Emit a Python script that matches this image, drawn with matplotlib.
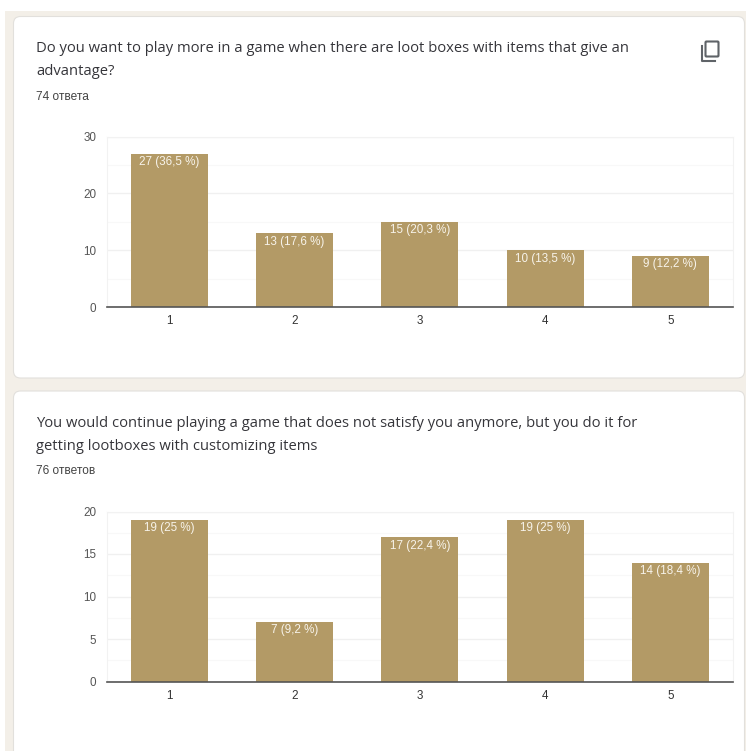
import matplotlib
matplotlib.use("Agg")
import matplotlib.pyplot as plt
from matplotlib.patches import FancyBboxPatch, Rectangle
from matplotlib.lines import Line2D

categories = [1, 2, 3, 4, 5]
values_a = [27, 13, 15, 10, 9]
labels_a = ["27 (36,5 %)", "13 (17,6 %)", "15 (20,3 %)", "10 (13,5 %)", "9 (12,2 %)"]
values_b = [19, 7, 17, 19, 14]
labels_b = ["19 (25 %)", "7 (9,2 %)", "17 (22,4 %)", "19 (25 %)", "14 (18,4 %)"]
title_a = ["Do you want to play more in a game when there are loot boxes with items that give an", "advantage?"]
title_b = ["You would continue playing a game that does not satisfy you anymore, but you do it for", "getting lootboxes with customizing items"]
count_a = "74 ответа"
count_b = "76 ответов"
ticks_a = [0, 10, 20, 30]
minor_a = [5, 15, 25]
ticks_b = [0, 5, 10, 15, 20]
minor_b = [2.5, 7.5, 12.5, 17.5]

W, H = 746, 751
BAR = "#b39a66"
fig = plt.figure(figsize=(W / 100, H / 100), dpi=100, facecolor="white")
bg = fig.add_axes([0, 0, 1, 1])
bg.set_xlim(0, W)
bg.set_ylim(H, 0)
bg.axis("off")
bg.add_patch(Rectangle((5, 11), W - 5, H - 11, fc="#f3efe8", ec="none"))
for y0, y1 in [(16.5, 378), (391, 790)]:
    bg.add_patch(FancyBboxPatch((13.5 + 6, y0 + 6), 731 - 12, y1 - y0 - 12,
                                boxstyle="round,pad=6,rounding_size=7",
                                fc="white", ec="#e2e0dc", lw=0.8))

TITLE_FONT = "Open Sans"
for (lines, count, ys, yc) in [(title_a, count_a, (48.5, 71.5), 96.5), (title_b, count_b, (423.5, 446.5), 470.5)]:
    for line, y in zip(lines, ys):
        bg.text(36, y, line, family=TITLE_FONT, fontsize=10.6, color="#35353a", va="center", ha="left")
    bg.text(36, yc, count, family="Liberation Sans", fontsize=8.6, color="#444444", va="center", ha="left")

# copy icon
bg.add_patch(FancyBboxPatch((705.5, 41.5), 13, 15, boxstyle="round,pad=0,rounding_size=1",
                            fc="none", ec="#5f6368", lw=1.5))
bg.add_line(Line2D([701.5, 701.5, 715], [46, 60.5, 60.5], color="#5f6368", lw=1.5))


def panel(top, bottom, values, labels, ticks, minor):
    ax = fig.add_axes([106.5 / W, 1 - bottom / H, (733 - 106.5) / W, (bottom - top) / H])
    ax.set_facecolor("white")
    ax.set_xlim(0.5, 5.5)
    ax.set_ylim(0, ticks[-1])
    for s in ["top", "left", "right"]:
        ax.spines[s].set_color("#f2f2f2")
        ax.spines[s].set_linewidth(0.8)
    ax.spines["bottom"].set_color("#555555")
    ax.spines["bottom"].set_linewidth(1.2)
    ax.set_yticks(ticks)
    ax.set_yticks(minor, minor=True)
    ax.set_xticks(categories)
    ax.grid(True, which="major", axis="y", color="#f0f0f0", lw=1.0)
    ax.grid(True, which="minor", axis="y", color="#f8f8f8", lw=0.8)
    ax.set_axisbelow(True)
    ax.tick_params(which="both", length=0)
    ax.tick_params(axis="y", pad=7.5, labelsize=8.4, labelcolor="#555555")
    ax.tick_params(axis="x", pad=5.8, labelsize=8.4, labelcolor="#333333")
    for t in ax.get_xticklabels() + ax.get_yticklabels():
        t.set_family("Liberation Sans")
    bars = ax.bar(categories, values, width=0.615, color=BAR, zorder=2)
    for b, lab in zip(bars, labels):
        ax.annotate(lab, (b.get_x() + b.get_width() / 2, b.get_height()), xytext=(0, -8.5),
                    textcoords="offset pixels",
                    ha="center", va="center", color="#f7f3ea", fontsize=8.4,
                    family="Liberation Sans", zorder=3)


panel(136.5, 307, values_a, labels_a, ticks_a, minor_a)
panel(511.5, 681.5, values_b, labels_b, ticks_b, minor_b)

fig.savefig("out.png", dpi=100, facecolor="white")
